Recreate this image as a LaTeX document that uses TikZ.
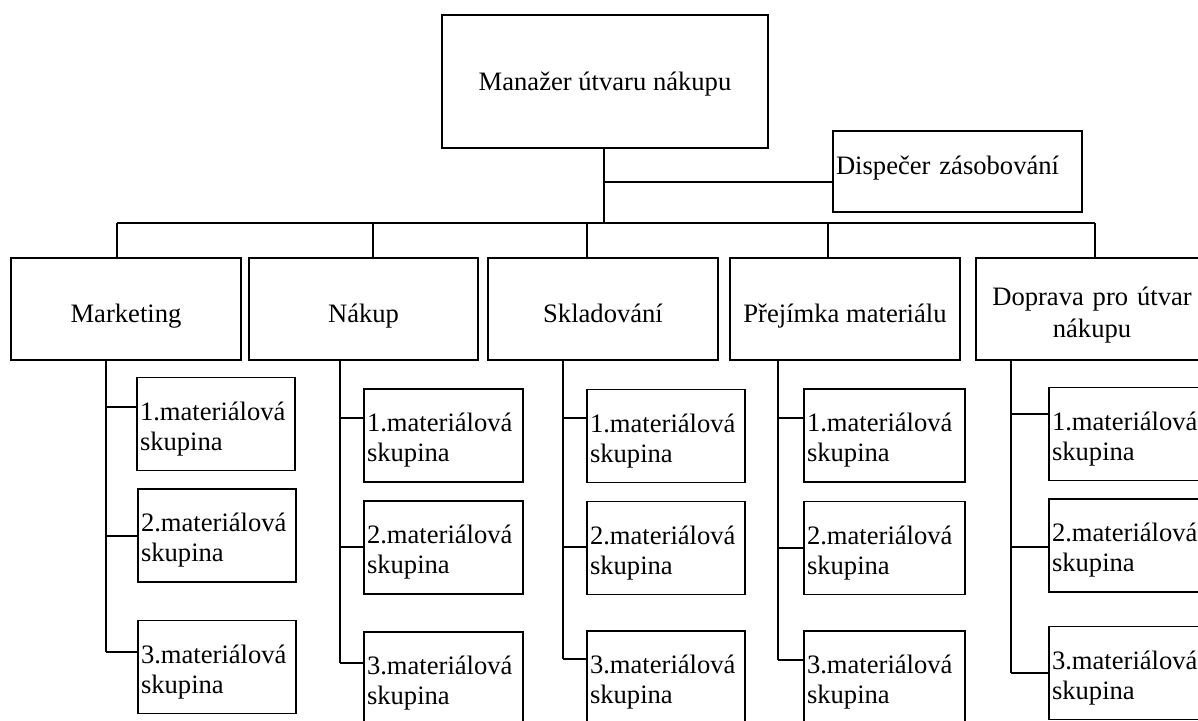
\documentclass[tikz,border=0pt]{standalone}
\usepackage{fontspec}
\setmainfont{Liberation Serif}
\begin{document}
\begin{tikzpicture}[x=0.5pt,y=-0.5pt,
  every node/.style={font=\fontsize{13.3}{15}\selectfont},
  box/.style={draw, line width=0.9pt, rectangle, inner sep=0pt, inner xsep=1.5pt},
  lvl/.style={box, minimum height=51pt, text height=16pt, text depth=3pt},
  sub/.style={box, minimum height=46.5pt, align=left, text height=10pt, text depth=14pt},
  wire/.style={line width=0.9pt}]
\useasboundingbox (0,0) rectangle (1198,720);

% top
\node[box, minimum width=163pt, minimum height=66.5pt, text height=12pt, text depth=3pt] (man) at (605,81.5) {Manažer útvaru nákupu};
\node[box, minimum width=124.5pt, minimum height=40.5pt, text width=121.5pt, align=left, text height=9pt, text depth=6pt] (disp) at (957.5,171.5) {Dispečer zásobování};

% level 2
\node[lvl, minimum width=115pt] (mkt) at (126,309) {Marketing};
\node[lvl, minimum width=114.5pt] (nak) at (363.5,309) {Nákup};
\node[lvl, minimum width=115pt] (skl) at (603,309) {Skladování};
\node[lvl, minimum width=115pt] (pre) at (845,309) {Přejímka materiálu};
\node[box, minimum width=116pt, minimum height=51pt, text width=113pt, align=center, text height=10pt, text depth=14pt] (dop) at (1092,309) {Doprava pro útvar\\[1pt]nákupu};

% level 3
\node[sub, text width=76pt] (mkt1) at (216,424) {1.materiálová\\skupina};
\node[sub, text width=76pt] (mkt2) at (217,535.5) {2.materiálová\\skupina};
\node[sub, text width=76pt] (mkt3) at (217,667) {3.materiálová\\skupina};

\node[sub, text width=76.5pt] (nak1) at (443.5,435.5) {1.materiálová\\skupina};
\node[sub, text width=76.5pt] (nak2) at (443.5,547.5) {2.materiálová\\skupina};
\node[sub, text width=76.5pt] (nak3) at (443.5,678.5) {3.materiálová\\skupina};

\node[sub, text width=76pt] (skl1) at (666,436) {1.materiálová\\skupina};
\node[sub, text width=76pt] (skl2) at (666,548) {2.materiálová\\skupina};
\node[sub, text width=76pt] (skl3) at (666,677.5) {3.materiálová\\skupina};

\node[sub, text width=77.5pt] (pre1) at (884.5,435.5) {1.materiálová\\skupina};
\node[sub, text width=77.5pt] (pre2) at (884.5,548) {2.materiálová\\skupina};
\node[sub, text width=77.5pt] (pre3) at (884.5,677.5) {3.materiálová\\skupina};

\node[sub, text width=77.5pt] (dop1) at (1129.5,434) {1.materiálová\\skupina};
\node[sub, text width=77.5pt] (dop2) at (1129.5,545.5) {2.materiálová\\skupina};
\node[sub, text width=77.5pt] (dop3) at (1129.5,673) {3.materiálová\\skupina};

% bus coordinates
\coordinate (t) at (604,223);
\coordinate (dj) at (604,182);
\coordinate (bm) at (117,223);
\coordinate (bn) at (373,223);
\coordinate (bs) at (587,223);
\coordinate (bp) at (828,223);
\coordinate (bd) at (1095,223);

\draw[wire] (man.south -| t) -- (t);
\draw[wire] (dj) -- (dj -| disp.west);
\draw[wire] (bm) -- (bd);
\draw[wire] (bm) -- (bm |- mkt.north);
\draw[wire] (bn) -- (bn |- nak.north);
\draw[wire] (bs) -- (bs |- skl.north);
\draw[wire] (bp) -- (bp |- pre.north);
\draw[wire] (bd) -- (bd |- dop.north);

% spines
\coordinate (m1) at (106,407); \coordinate (m2) at (106,536); \coordinate (m3) at (106,652);
\coordinate (n1) at (340,418); \coordinate (n2) at (340,547); \coordinate (n3) at (340,663);
\coordinate (s1) at (563,418); \coordinate (s2) at (563,547); \coordinate (s3) at (563,659);
\coordinate (p1) at (778,418); \coordinate (p2) at (778,548); \coordinate (p3) at (778,660);
\coordinate (d1) at (1011,414); \coordinate (d2) at (1011,547); \coordinate (d3) at (1011,673);

\draw[wire] (mkt.south -| m3) -- (m3);
\draw[wire] (nak.south -| n3) -- (n3);
\draw[wire] (skl.south -| s3) -- (s3);
\draw[wire] (pre.south -| p3) -- (p3);
\draw[wire] (dop.south -| d3) -- (d3);

\foreach \c/\b in {m1/mkt1,m2/mkt2,m3/mkt3,n1/nak1,n2/nak2,n3/nak3,s1/skl1,s2/skl2,s3/skl3,p1/pre1,p2/pre2,p3/pre3,d1/dop1,d2/dop2,d3/dop3}
  \draw[wire] (\c) -- (\c -| \b.west);
\end{tikzpicture}
\end{document}
